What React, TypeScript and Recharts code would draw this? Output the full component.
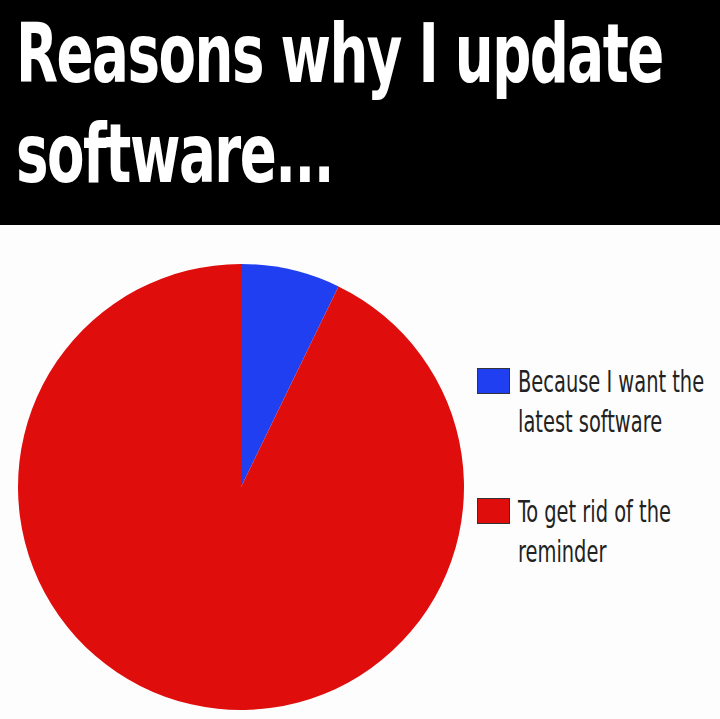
import React from "react";
import { PieChart, Pie, Cell } from "recharts";

const categories = ["Because I want the latest software", "To get rid of the reminder"];
const values = [7.2, 92.8];
const colors = ["#1f3ff0", "#e00d0d"];
const legendLines = [["Because I want the", "latest software"], ["To get rid of the", "reminder"]];

const data = categories.map((name, i) => ({ name, value: values[i] }));
const font = "'Liberation Sans Narrow', 'DejaVu Sans Condensed', sans-serif";

export default function App() {
  return (
    <div style={{ position: "fixed", left: 0, top: 0, width: 720, height: 719, background: "#fdfdfd", overflow: "hidden" }}>
      <div style={{ position: "absolute", left: 0, top: 0, width: 720, height: 225, background: "#000" }} />
      <div style={{ position: "absolute", left: 16, top: 4, color: "#fff", fontFamily: font, fontWeight: "bold", fontSize: 82, lineHeight: "100px", letterSpacing: -2, transform: "scaleX(0.74)", transformOrigin: "left top", whiteSpace: "nowrap" }}>
        Reasons why I update<br />software...
      </div>
      <div style={{ position: "absolute", left: 0, top: 0 }}>
        <PieChart width={720} height={719}>
          <Pie data={data} dataKey="value" cx={236} cy={482} outerRadius={223} startAngle={90} endAngle={-270} stroke="none" isAnimationActive={false}>
            {data.map((d, i) => <Cell key={d.name} fill={colors[i]} />)}
          </Pie>
        </PieChart>
      </div>
      {legendLines.map((lines, i) => (
        <div key={i} style={{ position: "absolute", left: 477, top: 362 + i * 130, display: "flex" }}>
          <div style={{ width: 31, height: 24, background: colors[i], border: "1px solid #333", marginTop: 6, marginRight: 8, flexShrink: 0 }} />
          <div style={{ fontFamily: font, fontSize: 30, lineHeight: "40px", color: "#222", transform: "scaleX(0.72)", transformOrigin: "left top", whiteSpace: "nowrap" }}>
            {lines[0]}<br />{lines[1]}
          </div>
        </div>
      ))}
    </div>
  );
}
